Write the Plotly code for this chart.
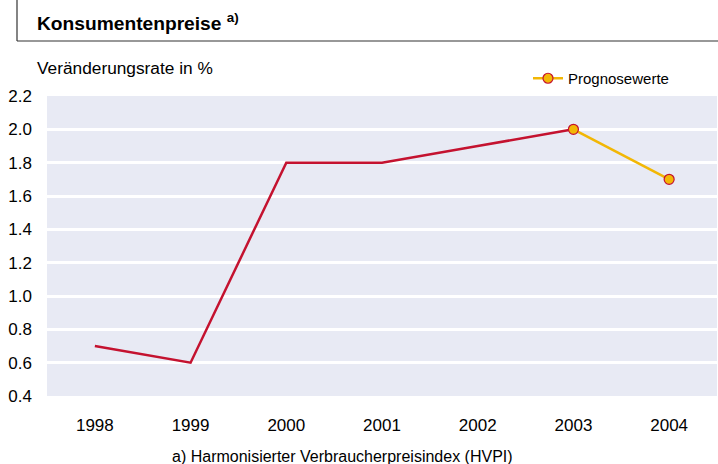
import plotly.graph_objects as go

years_hist = [1998, 1999, 2000, 2001, 2002, 2003]
values_hist = [0.7, 0.6, 1.8, 1.8, 1.9, 2.0]
years_prog = [2003, 2004]
values_prog = [2.0, 1.7]
tick_years = [1998, 1999, 2000, 2001, 2002, 2003, 2004]
y_ticks = [0.4, 0.6, 0.8, 1.0, 1.2, 1.4, 1.6, 1.8, 2.0, 2.2]

RED = "#C4122F"
YEL = "#F2B705"
FONT = "Liberation Sans, Arial, sans-serif"

W, H = 718, 464
ML, MR, MT, MB = 47, 1, 96, 68
PW = W - ML - MR
PH = H - MT - MB

def px(x):
    return (x - ML) / PW

def py(y):
    return (H - MB - y) / PH

fig = go.Figure()
fig.add_trace(go.Scatter(x=years_hist, y=values_hist, mode="lines",
                         line=dict(color=RED, width=2.5), showlegend=False))
fig.add_trace(go.Scatter(x=years_prog, y=values_prog, mode="lines+markers",
                         name="Prognosewerte",
                         line=dict(color=YEL, width=2.5),
                         marker=dict(size=10, color=YEL, line=dict(color=RED, width=1.2))))

fig.update_layout(
    width=W, height=H,
    margin=dict(l=ML, r=MR, t=MT, b=MB),
    paper_bgcolor="white",
    plot_bgcolor="#E8EAF4",
    font=dict(family=FONT, size=17, color="black"),
    xaxis=dict(range=[1997.5, 2004.5], tickvals=tick_years,
               ticktext=[str(y) for y in tick_years],
               showgrid=False, zeroline=False, ticks="", ticklabelstandoff=17),
    yaxis=dict(range=[0.4, 2.2], tickvals=y_ticks,
               ticktext=[f"{v:.1f}" for v in y_ticks],
               showgrid=True, gridcolor="white", gridwidth=2.5,
               zeroline=False, ticks="", ticklabelstandoff=14),
    legend=dict(x=px(528), y=py(62), xanchor="left", yanchor="top",
                bgcolor="rgba(0,0,0,0)", font=dict(size=15)),
    showlegend=True,
    shapes=[
        dict(type="line", xref="paper", yref="paper",
             x0=px(17), x1=px(17), y0=py(0), y1=py(41),
             line=dict(color="#333333", width=1.2)),
        dict(type="line", xref="paper", yref="paper",
             x0=px(17), x1=px(718), y0=py(41), y1=py(41),
             line=dict(color="#333333", width=1.2)),
    ],
    annotations=[
        dict(text="<b>Konsumentenpreise <sup>a)</sup></b>", xref="paper", yref="paper",
             x=px(35), y=py(22), xanchor="left", yanchor="middle",
             showarrow=False, font=dict(size=19.2)),
        dict(text="Veränderungsrate in %", xref="paper", yref="paper",
             x=px(35), y=py(68), xanchor="left", yanchor="middle",
             showarrow=False, font=dict(size=17.3)),
        dict(text="a) Harmonisierter Verbraucherpreisindex (HVPI)", xref="paper", yref="paper",
             x=px(342), y=py(456), xanchor="center", yanchor="middle",
             showarrow=False, font=dict(size=16)),
    ],
)

fig.write_html("out.html", config={"displayModeBar": False},
               post_script="document.body.style.margin='0';document.body.style.padding='0';")
